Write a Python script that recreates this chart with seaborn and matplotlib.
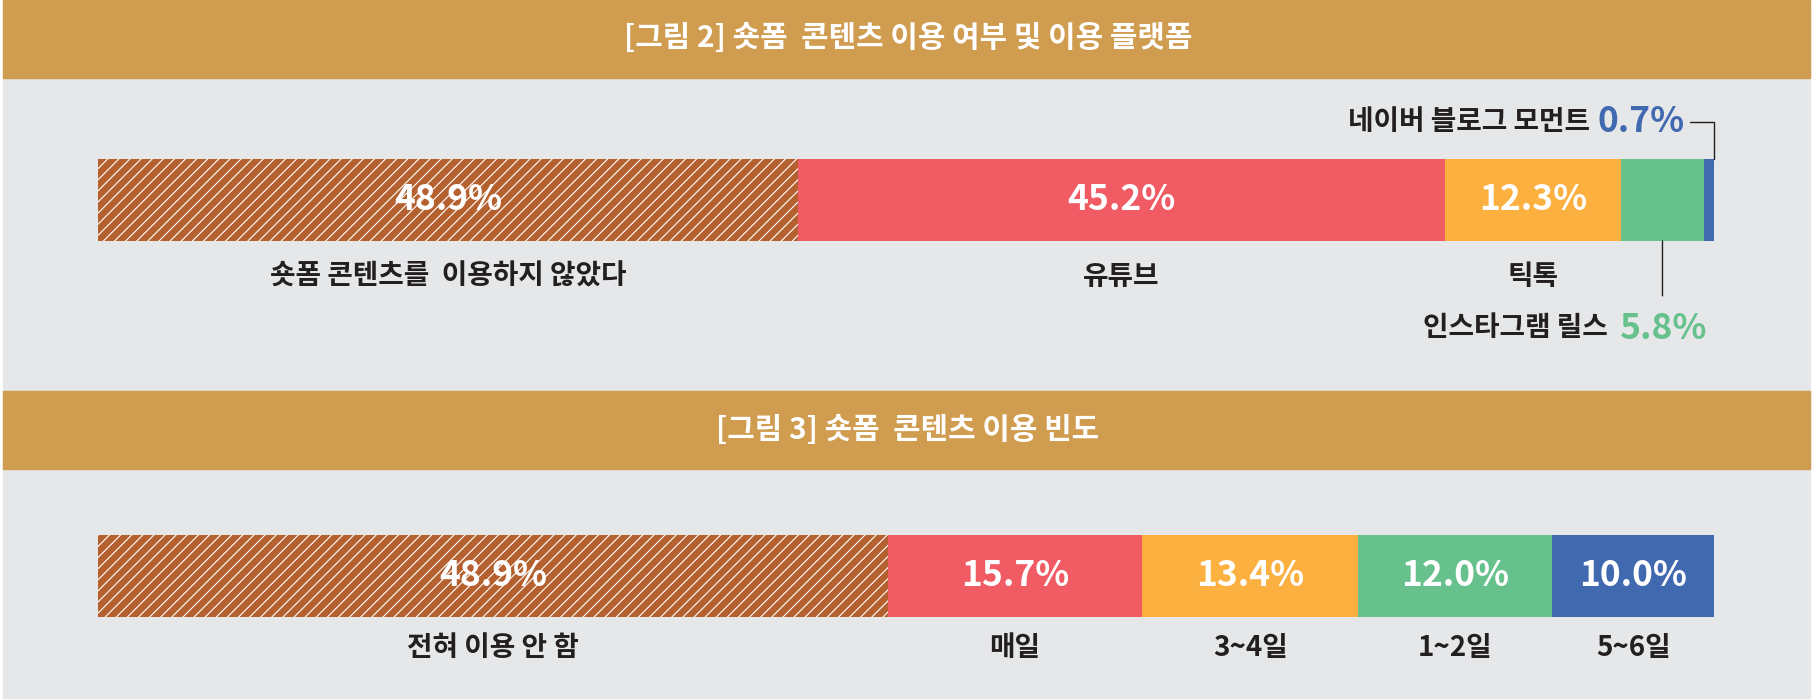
import matplotlib
matplotlib.use("Agg")
import numpy as np
import pandas as pd
import matplotlib.pyplot as plt
from matplotlib.patches import Rectangle
import seaborn as sns

title_platform = "[그림 2] 숏폼  콘텐츠 이용 여부 및 이용 플랫폼"
title_freq = "[그림 3] 숏폼  콘텐츠 이용 빈도"

platform_names = ["숏폼 콘텐츠를  이용하지 않았다", "유튜브", "틱톡",
                  "인스타그램 릴스", "네이버 블로그 모먼트"]
platform_values = [48.9, 45.2, 12.3, 5.8, 0.7]

freq_names = ["전혀 이용 안 함", "매일", "3~4일", "1~2일", "5~6일"]
freq_values = [48.9, 15.7, 13.4, 12.0, 10.0]

seg_colors = ["#B5602F", "#F15B64", "#FBB040", "#67C18D", "#4169B0"]

HEADER = "#D09C4F"
BG = "#E6E7E9"
INK = "#231F20"

W, H = 1816, 700
PCT_SIZE = 25.5
NAME_SIZE = 20
TITLE_SIZE = 21.5


def fx(px):
   return px / W


def fy(py):
   return 1 - py / H


def stacked_bar(ax, names, values):
   """One stacked bar: longest cumulative bar first, shorter ones drawn on top."""
   ends = np.cumsum(values)
   df = pd.DataFrame({"row": ["r"] * len(values), "end": ends, "name": names})
   sns.barplot(data=df, x="end", y="row", hue="name", hue_order=names[::-1],
               palette=dict(zip(names, seg_colors)), dodge=False, width=1,
               saturation=1, errorbar=None, legend=False, orient="h", ax=ax)
   for p in ax.patches:
      p.set_linewidth(0)
   first = ax.containers[-1][0]
   first.set_edgecolor("white")
   first.set_hatch("///")
   ax.set_xlim(0, ends[-1])
   ax.set_ylim(0.5, -0.5)
   ax.axis("off")
   mids = ends - np.asarray(values) / 2
   return mids, ends


def pct_in_bar(ax, mids, values, n):
   for m, v in list(zip(mids, values))[:n]:
      ax.text(m, 0, f"{v:.1f}%", ha="center", va="center", color="white",
              fontsize=PCT_SIZE, fontweight="bold")


def names_below(ax, mids, names, n, y):
   for m, name in list(zip(mids, names))[:n]:
      ax.text(m, y, name, transform=ax.get_xaxis_transform(), ha="center",
              va="center", fontsize=NAME_SIZE, fontweight="bold", color=INK)


def main():
   sns.set_theme(style="white")
   plt.rcParams["font.family"] = ["Noto Sans CJK KR", "DejaVu Sans"]
   plt.rcParams["hatch.color"] = "white"
   plt.rcParams["hatch.linewidth"] = 0.8

   fig = plt.figure(figsize=(W / 100, H / 100), dpi=100, facecolor="white")

   # panel background and header bands
   fig.add_artist(Rectangle((fx(3), fy(698)), fx(1807), 698 / H,
                            transform=fig.transFigure, color=BG, zorder=-10))
   for top, bottom in [(0, 78), (391, 469)]:
      fig.add_artist(Rectangle((fx(3), fy(bottom)), fx(1807), (bottom - top) / H,
                               transform=fig.transFigure, color=HEADER, zorder=-9))
   fig.text(0.5, fy(38), title_platform, ha="center", va="center",
            color="white", fontsize=TITLE_SIZE, fontweight="bold")
   fig.text(0.5, fy(430), title_freq, ha="center", va="center",
            color="white", fontsize=TITLE_SIZE, fontweight="bold")

   # [그림 2]
   ax1 = fig.add_axes([fx(98), fy(241), fx(1616), 82 / H])
   ax1.patch.set_alpha(0)
   mids, ends = stacked_bar(ax1, platform_names, platform_values)
   pct_in_bar(ax1, mids, platform_values, 3)
   names_below(ax1, mids, platform_names, 3, -0.44)

   line_kw = dict(arrowstyle="-", color=INK, lw=1, shrinkA=0, shrinkB=0)
   trans = ax1.get_xaxis_transform()

   # 네이버 블로그 모먼트 callout
   ax1.annotate("", xy=(ends[4], 1), xycoords=trans, xytext=(-17, 27),
                textcoords="offset points",
                arrowprops=dict(connectionstyle="angle,angleA=0,angleB=90,rad=0",
                                **line_kw))
   p5 = ax1.annotate(f"{platform_values[4]:.1f}%", xy=(ends[4], 1), xycoords=trans,
                     xytext=(-21.5, 27), textcoords="offset points", ha="right",
                     va="center", fontsize=PCT_SIZE, fontweight="bold",
                     color=seg_colors[4])
   ax1.annotate(platform_names[4], xy=(0, 0.5), xycoords=p5, xytext=(-5, 0),
                textcoords="offset points", ha="right", va="center",
                fontsize=NAME_SIZE, fontweight="bold", color=INK)

   # 인스타그램 릴스 callout
   ax1.annotate("", xy=(mids[3], 0), xycoords=trans, xytext=(0, -39.5),
                textcoords="offset points", arrowprops=line_kw)
   p4 = ax1.annotate(f"{platform_values[3]:.1f}%", xy=(mids[3], 0), xycoords=trans,
                     xytext=(0, -63), textcoords="offset points", ha="center",
                     va="center", fontsize=PCT_SIZE, fontweight="bold",
                     color=seg_colors[3])
   ax1.annotate(platform_names[3], xy=(0, 0.5), xycoords=p4, xytext=(-8, 0),
                textcoords="offset points", ha="right", va="center",
                fontsize=NAME_SIZE, fontweight="bold", color=INK)

   # [그림 3]
   ax2 = fig.add_axes([fx(98), fy(617), fx(1616), 82 / H])
   ax2.patch.set_alpha(0)
   mids2, _ = stacked_bar(ax2, freq_names, freq_values)
   pct_in_bar(ax2, mids2, freq_values, 5)
   names_below(ax2, mids2, freq_names, 5, -0.38)

   fig.savefig("out.png", dpi=100, facecolor="white")


if __name__ == "__main__":
   main()
